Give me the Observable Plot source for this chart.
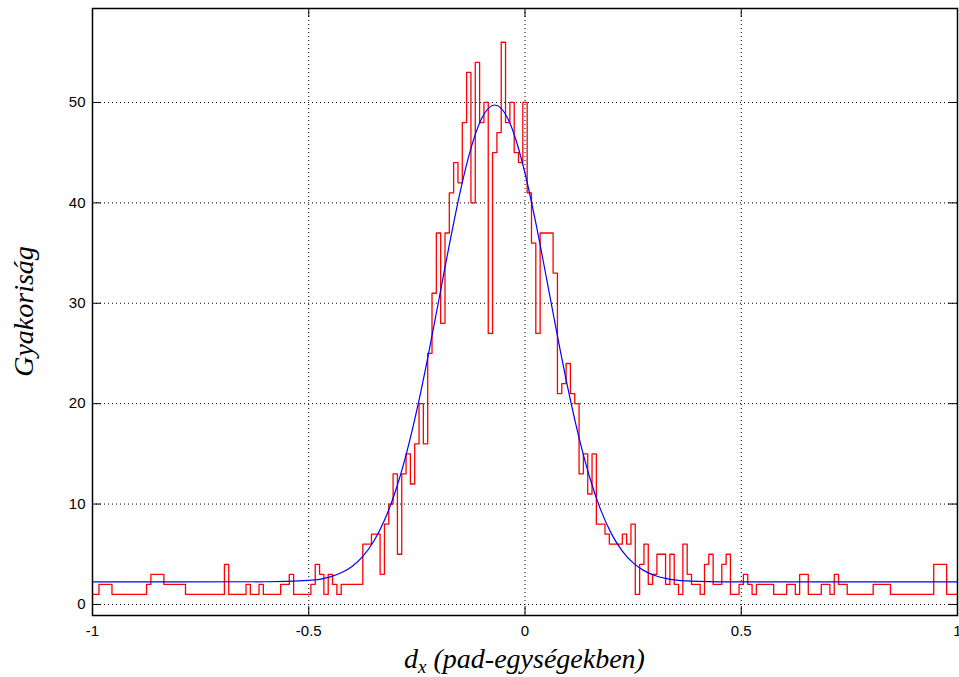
<!DOCTYPE html>
<html>
<head>
<meta charset="utf-8">
<script src="https://cdn.jsdelivr.net/npm/d3@7"></script>
<script src="https://cdn.jsdelivr.net/npm/@observablehq/plot@0.6"></script>
<style>
  html, body { margin: 0; padding: 0; background: #fff; }
</style>
</head>
<body>
<div id="chart"></div>
<script>
// Histogram: bin width 0.01, first bin centred at -1, last at +1
const binStart = -1;
const binWidth = 0.01;
const counts = [
  1, 1, 2, 2, 2,                 // -1.00 .. -0.96
  1, 1, 1, 1, 1, 1, 1, 1,        // -0.95 .. -0.88
  2, 3, 3, 3,                    // -0.87 .. -0.84
  2, 2, 2, 2, 2,                 // -0.83 .. -0.79
  1, 1, 1, 1, 1, 1, 1, 1, 1,     // -0.78 .. -0.70
  4, 1, 1, 1, 1, 2, 1, 1, 2,     // -0.69 .. -0.61
  1, 1, 1, 1, 2, 2, 3,           // -0.60 .. -0.54
  1, 1, 1, 1, 2, 4, 3, 1, 3, 2, 1, // -0.53 .. -0.43
  2, 2, 2, 2, 2,                 // -0.42 .. -0.38
  6, 6, 7, 7, 3, 8, 10, 13, 5, 13, 15, 12, 16, 20, 16, 25, // -0.37 .. -0.22
  31, 37, 28, 37, 41, 44, 42, 48, 53, 40, 54, 48, 50, 27, 45, 47, // -0.21 .. -0.06
  56, 48, 50, 45, 44,            // -0.05 .. -0.01
  50, 41, 36, 27, 37, 37, 37, 33, 21, 22, 24, 21, 20, // 0.00 .. 0.12
  13, 15, 11, 15, 8, 8, 7, 6, 6, 6, 7, 6, 8,           // 0.13 .. 0.25
  1, 4, 6, 2, 3, 5, 5, 2, 5, 2, 1, 6, 3, 2, 2, 1,      // 0.26 .. 0.41
  4, 5, 2, 2, 4, 5, 1, 1, 2, 3, 2, 1,                  // 0.42 .. 0.53
  2, 2, 2, 2, 1, 1, 1, 2, 2, 1, 3, 3, 1, 1, 1,         // 0.54 .. 0.68
  2, 2, 1, 3, 2, 2, 1, 1, 1, 1, 1, 1,                  // 0.69 .. 0.80
  2, 2, 2, 2, 1, 1, 1, 1, 1, 1, 1, 1, 1, 1,            // 0.81 .. 0.94
  4, 4, 4, 1, 1, 1                                     // 0.95 .. 1.00
];

// Fitted Gaussian curve
const fitX = [-1, -0.6, -0.5, -0.45, -0.425, -0.4, -0.375, -0.35, -0.325, -0.3, -0.275, -0.25, -0.225, -0.2, -0.175, -0.15, -0.125, -0.1, -0.07, -0.04, -0.025, 0, 0.025, 0.05, 0.075, 0.1, 0.125, 0.15, 0.175, 0.2, 0.225, 0.25, 0.275, 0.3, 0.325, 0.35, 0.4, 0.5, 1];
const fitY = [2.25, 2.26, 2.39, 2.75, 3.15, 3.79, 4.79, 6.27, 8.38, 11.22, 14.89, 19.37, 24.54, 30.15, 35.82, 41.08, 45.43, 48.42, 49.75, 48.42, 46.81, 42.95, 38.0, 32.43, 26.75, 21.37, 16.59, 12.6, 9.42, 7.03, 5.31, 4.14, 3.37, 2.89, 2.60, 2.43, 2.30, 2.25, 2.25];

const xTicks = [-1, -0.5, 0, 0.5, 1];
const xTickLabels = ["-1", "-0.5", "0", "0.5", "1"];
const yTicks = [0, 10, 20, 30, 40, 50];
const xLabelMain = "d";
const xLabelSub = "x";
const xLabelRest = " (pad-egységekben)";
const yLabel = "Gyakoriság";

const hist = counts.map((n, i) => ({x: +(binStart + i * binWidth).toFixed(2), n}));
const fit = fitX.map((x, i) => ({x, y: fitY[i]}));

const W = 959, H = 677, mL = 92, mR = 2, mT = 8, mB = 62;
const innerW = W - mL - mR, innerH = H - mT - mB;
const tickLen = 9;
const sans = "'Liberation Sans', Arial, Helvetica, sans-serif";
const serif = "'Liberation Serif', 'Times New Roman', serif";

const plot = Plot.plot({
  width: W, height: H,
  marginLeft: mL, marginRight: mR, marginTop: mT, marginBottom: mB,
  x: {domain: [-1, 1], axis: null},
  y: {domain: [-1.1, 59.36], axis: null},
  style: {background: "white", fontFamily: sans},
  marks: [
    Plot.ruleX(xTicks.slice(1, -1), {x: d => d, stroke: "black", strokeWidth: 1, strokeDasharray: "1,3"}),
    Plot.ruleY(yTicks, {y: d => d, stroke: "black", strokeWidth: 1, strokeDasharray: "1,3"}),
    Plot.line(hist, {x: "x", y: "n", curve: "step", stroke: "#ff0000", strokeWidth: 1.3, clip: true}),
    Plot.line(fit, {x: "x", y: "y", curve: "monotone-x", stroke: "#0000ff", strokeWidth: 1.2, clip: true}),
    // inward tick marks on all four sides
    Plot.tickX(xTicks, {x: d => d, insetTop: innerH - tickLen, stroke: "black", strokeWidth: 1}),
    Plot.tickX(xTicks, {x: d => d, insetBottom: innerH - tickLen, stroke: "black", strokeWidth: 1}),
    Plot.tickY(yTicks, {y: d => d, insetRight: innerW - tickLen, stroke: "black", strokeWidth: 1}),
    Plot.tickY(yTicks, {y: d => d, insetLeft: innerW - tickLen, stroke: "black", strokeWidth: 1}),
    Plot.frame({stroke: "black", strokeWidth: 1.5}),
    Plot.text(xTicks, {x: d => d, text: (d, i) => xTickLabels[i], frameAnchor: "bottom", dy: 20, fontSize: 15, fill: "black"}),
    Plot.text(yTicks, {y: d => d, text: d => String(d), frameAnchor: "left", dx: -7, textAnchor: "end", fontSize: 15, fill: "black"})
  ]
});

const svg = d3.select(plot);
svg.append("text")
  .attr("transform", `translate(27,${mT + innerH / 2}) rotate(-90)`)
  .attr("text-anchor", "middle")
  .attr("dominant-baseline", "middle")
  .attr("font-family", serif)
  .attr("font-style", "italic")
  .attr("font-size", 28)
  .attr("fill", "black")
  .text(yLabel);

const xl = svg.append("text")
  .attr("x", mL + innerW / 2)
  .attr("y", 668)
  .attr("text-anchor", "middle")
  .attr("font-family", serif)
  .attr("font-style", "italic")
  .attr("font-size", 28)
  .attr("fill", "black");
xl.append("tspan").text(xLabelMain);
xl.append("tspan").attr("font-size", 19).attr("dy", 5).text(xLabelSub);
xl.append("tspan").attr("dy", -5).text(xLabelRest);

document.getElementById("chart").appendChild(plot);
</script>
</body>
</html>
